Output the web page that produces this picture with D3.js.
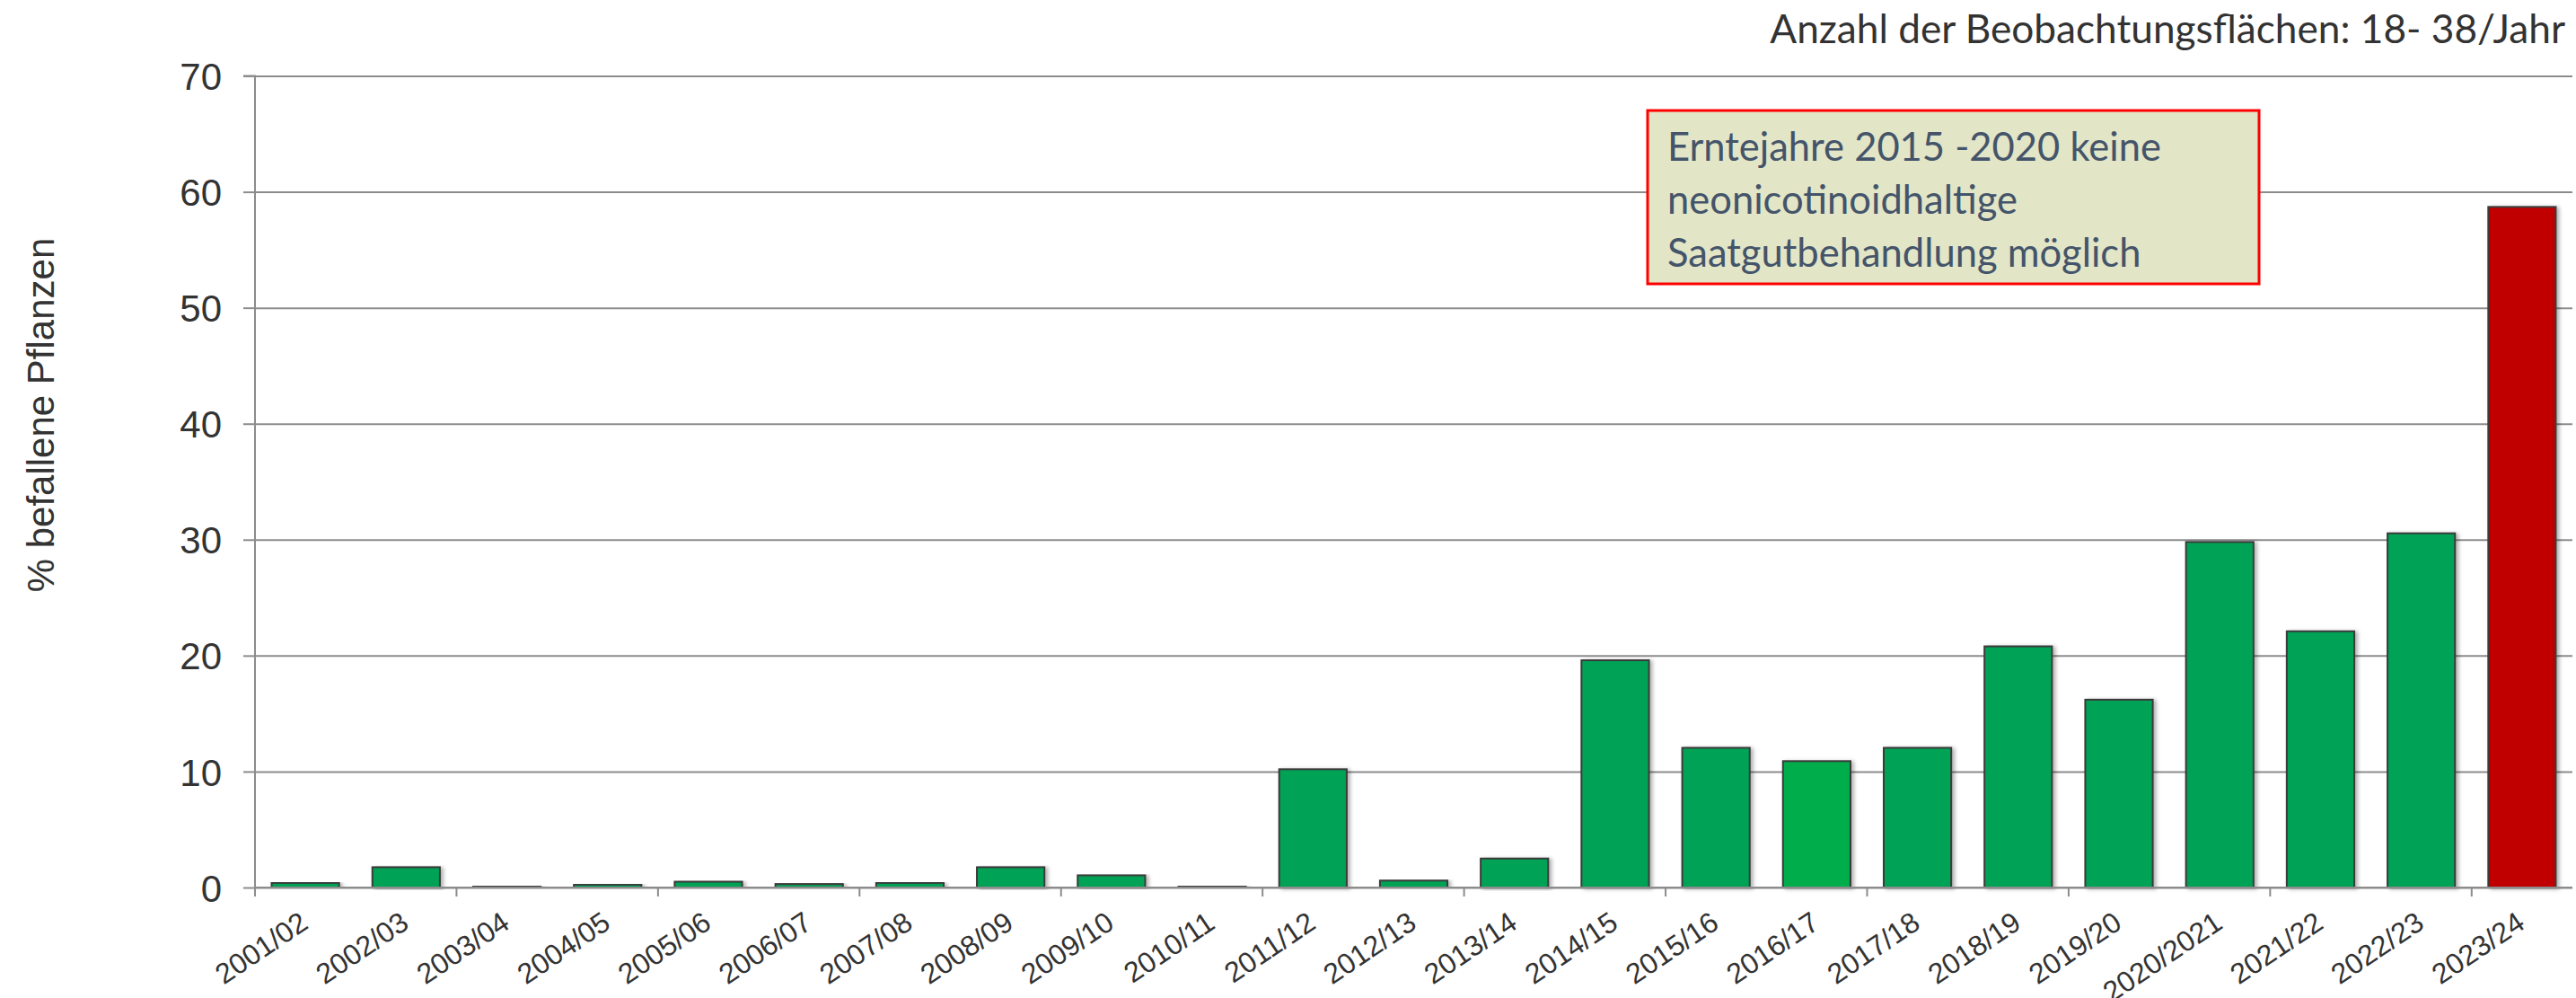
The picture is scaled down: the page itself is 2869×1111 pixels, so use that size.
<!DOCTYPE html>
<html>
<head>
<meta charset="utf-8">
<script src="https://cdn.jsdelivr.net/npm/d3@7"></script>
<style>
  body { margin: 0; background: #fff; }
  svg { display: block; }
  .tick text { fill: #333; }
</style>
</head>
<body>
<svg id="chart"></svg>
<script>
const categories = ['2001/02', '2002/03', '2003/04', '2004/05', '2005/06', '2006/07', '2007/08',
  '2008/09', '2009/10', '2010/11', '2011/12', '2012/13', '2013/14', '2014/15', '2015/16',
  '2016/17', '2017/18', '2018/19', '2019/20', '2020/2021', '2021/22', '2022/23', '2023/24']
const values = [0.4, 1.75, 0.1, 0.25, 0.5, 0.3, 0.4, 1.75, 1.05, 0.1, 10.2, 0.6, 2.5, 19.6,
  12.05, 10.9, 12.05, 20.8, 16.2, 29.8, 22.1, 30.55, 58.7]
const yTicks = [0, 10, 20, 30, 40, 50, 60, 70]
const yLabel = '% befallene Pflanzen'
const topNote = 'Anzahl der Beobachtungsflächen: 18- 38/Jahr'
const boxLines = ['Erntejahre 2015 -2020 keine', 'neonicotinoidhaltige', 'Saatgutbehandlung möglich']

const SVG_WIDTH = 2869
const SVG_HEIGHT = 1111
const LEFT = 284
const RIGHT = 2865
const TOP = 84.5
const BOTTOM = 988
const GRID_COLOR = '#8c8c8c'

const svg = d3.select('#chart')
  .attr('width', SVG_WIDTH)
  .attr('height', SVG_HEIGHT)

const slotScale = d3.scaleBand()
  .domain(categories)
  .range([LEFT, RIGHT])

const barScale = d3.scaleBand()
  .domain(categories)
  .range([LEFT, RIGHT])
  .paddingInner(0.33)
  .paddingOuter(0.165)

const yScale = d3.scaleLinear()
  .domain([0, 70])
  .range([BOTTOM, TOP])

function barColor(cat) {
  if (cat === '2023/24') return '#c00000'
  if (cat === '2016/17') return '#00ad4b'
  return '#00a355'
}

// shadow like the office chart
const defs = svg.append('defs')
defs.append('filter')
  .attr('id', 'shadow')
  .attr('x', '-10%').attr('y', '-10%')
  .attr('width', '130%').attr('height', '120%')
  .append('feDropShadow')
  .attr('dx', 3).attr('dy', 1)
  .attr('stdDeviation', 2)
  .attr('flood-color', '#000')
  .attr('flood-opacity', 0.3)

// gridlines
const grid = svg.append('g')
  .attr('transform', `translate(${LEFT}, 0)`)
  .call(d3.axisLeft(yScale).tickValues(yTicks).tickSize(-(RIGHT - LEFT)).tickFormat(''))
grid.select('.domain').remove()
grid.selectAll('line').attr('stroke', GRID_COLOR).attr('stroke-width', 2)

// y axis
const yAxis = svg.append('g')
  .attr('transform', `translate(${LEFT}, 0)`)
  .call(d3.axisLeft(yScale).tickValues(yTicks).tickSize(13).tickPadding(24))
yAxis.select('.domain').attr('stroke', GRID_COLOR).attr('stroke-width', 2)
  .attr('d', `M-13,${TOP}H0V${BOTTOM + 10}`)
yAxis.selectAll('line').attr('stroke', GRID_COLOR).attr('stroke-width', 2)
yAxis.selectAll('text')
  .attr('font-family', '"Liberation Sans", Arial, sans-serif')
  .attr('font-size', 42)
  .attr('dy', '0.36em')

svg.append('text')
  .attr('transform', `translate(60, 462) rotate(-90)`)
  .attr('text-anchor', 'middle')
  .attr('font-family', '"Liberation Sans", Arial, sans-serif')
  .attr('font-size', 42)
  .attr('fill', '#333')
  .text(yLabel)

// bars
svg.append('g')
  .selectAll('rect')
  .data(values)
  .enter()
  .append('rect')
  .attr('x', (d, i) => barScale(categories[i]))
  .attr('y', d => yScale(d))
  .attr('width', barScale.bandwidth())
  .attr('height', d => BOTTOM - yScale(d))
  .attr('fill', (d, i) => barColor(categories[i]))
  .attr('stroke', '#3a3a3a')
  .attr('stroke-width', 2)
  .attr('filter', 'url(#shadow)')

// x axis
const xAxis = svg.append('g')
  .attr('transform', `translate(0, ${BOTTOM})`)
  .call(d3.axisBottom(slotScale).tickSize(0).tickPadding(0))
xAxis.select('.domain').attr('stroke', GRID_COLOR).attr('stroke-width', 2)
  .attr('d', `M${LEFT},0H${RIGHT}`)
xAxis.selectAll('.tick text')
  .attr('font-family', '"Liberation Sans", Arial, sans-serif')
  .attr('font-size', 32)
  .attr('text-anchor', 'end')
  .attr('dy', 0)
  .attr('transform', 'translate(5, 44) rotate(-34)')

xAxis.selectAll('.boundary')
  .data(categories.filter((c, i) => i % 2 === 0))
  .enter()
  .append('line')
  .attr('class', 'boundary')
  .attr('x1', d => slotScale(d))
  .attr('x2', d => slotScale(d))
  .attr('y1', 0)
  .attr('y2', 10)
  .attr('stroke', GRID_COLOR)
  .attr('stroke-width', 2)

// top right note
svg.append('text')
  .attr('x', 2857)
  .attr('y', 48)
  .attr('text-anchor', 'end')
  .attr('font-family', 'Lato, sans-serif')
  .attr('font-size', 44.2)
  .attr('fill', '#333')
  .text(topNote)

// annotation box
const box = svg.append('g')
box.append('rect')
  .attr('x', 1835)
  .attr('y', 123)
  .attr('width', 681)
  .attr('height', 193)
  .attr('fill', '#e2e5c6')
  .attr('stroke', '#ff0000')
  .attr('stroke-width', 3)
box.selectAll('text')
  .data(boxLines)
  .enter()
  .append('text')
  .attr('x', 1857)
  .attr('y', (d, i) => 179 + i * 59)
  .attr('font-family', 'Lato, sans-serif')
  .attr('font-size', 43.5)
  .attr('fill', '#44546a')
  .text(d => d)
</script>
</body>
</html>
